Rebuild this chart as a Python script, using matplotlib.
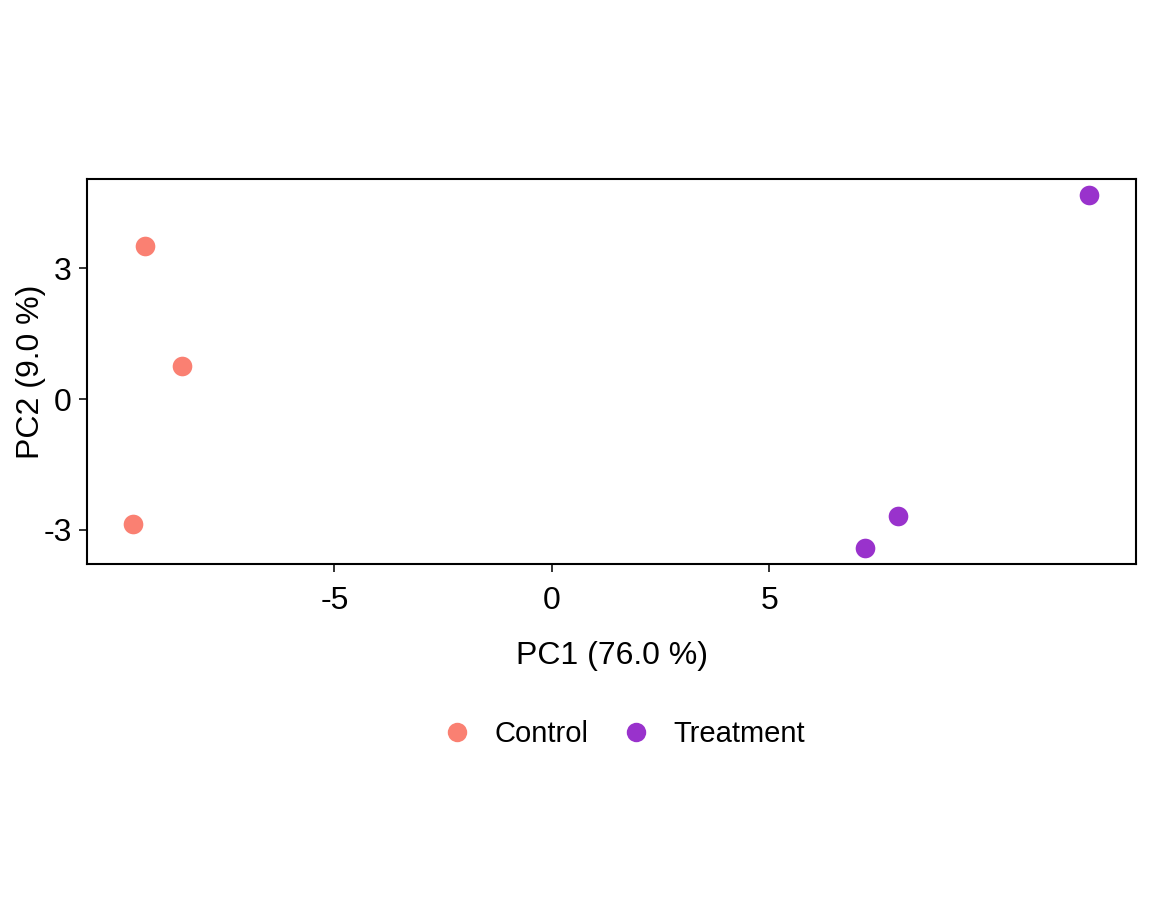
import matplotlib
matplotlib.use("Agg")
import matplotlib.pyplot as plt
from matplotlib.lines import Line2D

plt.rcParams["font.family"] = ["Liberation Sans", "DejaVu Sans"]

# PCA scores
control_pc1 = [-9.36, -8.51, -9.63]
control_pc2 = [3.51, 0.76, -2.87]
treatment_pc1 = [12.34, 7.95, 7.20]
treatment_pc2 = [4.68, -2.68, -3.42]

groups = ["Control", "Treatment"]
colors = {"Control": "#FA8072", "Treatment": "#9932CC"}
x_ticks = [-5, 0, 5]
y_ticks = [-3, 0, 3]
x_label = "PC1 (76.0 %)"
y_label = "PC2 (9.0 %)"

FS = 23
LEG_FS = 21

fig = plt.figure(figsize=(11.52, 9.21), dpi=100)
ax = fig.add_axes([87 / 1152, 1 - 564 / 921, (1136 - 87) / 1152, (564 - 179) / 921])

ax.scatter(control_pc1, control_pc2, s=200, color=colors["Control"], linewidths=0, zorder=3)
ax.scatter(treatment_pc1, treatment_pc2, s=200, color=colors["Treatment"], linewidths=0, zorder=3)

ax.set_xlim(-10.69, 13.43)
ax.set_ylim(-3.78, 5.04)
ax.set_xticks(x_ticks)
ax.set_yticks(y_ticks)
ax.set_xticklabels([str(v) for v in x_ticks])
ax.set_yticklabels([str(v) for v in y_ticks])
ax.tick_params(axis="both", length=6, width=1.4, color="#333333",
               labelsize=FS, labelcolor="black")
ax.tick_params(axis="x", pad=9.5)
ax.tick_params(axis="y", pad=5)
for sp in ax.spines.values():
    sp.set_linewidth(1.5)
    sp.set_color("black")

ax.set_xlabel(x_label, fontsize=FS, labelpad=18)
ax.set_ylabel(y_label, fontsize=FS, labelpad=-2)

handles = [Line2D([], [], linestyle="none", marker="o", markersize=14,
                  markerfacecolor=colors[g], markeredgewidth=0) for g in groups]
fig.legend(handles, groups, loc="center", bbox_to_anchor=(624 / 1152, 1 - 734 / 921),
           ncol=2, frameon=False, fontsize=LEG_FS, handlelength=1.0,
           handletextpad=0.8, columnspacing=1.11)

fig.savefig("out.png", dpi=100, facecolor="white")
